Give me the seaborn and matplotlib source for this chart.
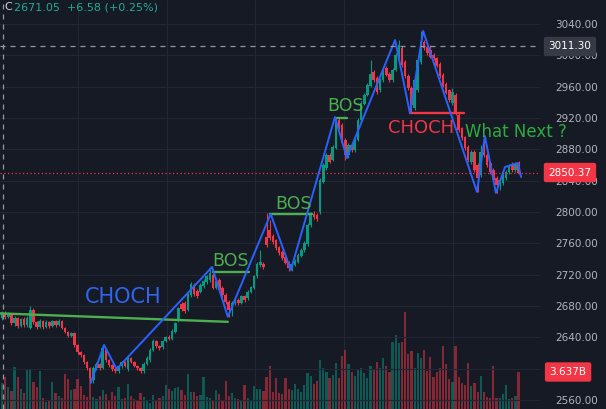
import numpy as np
import pandas as pd
import matplotlib
matplotlib.use("Agg")
import matplotlib.pyplot as plt
import matplotlib.transforms as mtransforms
import seaborn as sns

# candles (one per bar, left to right)
opens = [2664.5, 2671.1, 2666.0, 2669.7, 2658.2, 2664.6, 2654.3, 2663.3, 2655.6, 2652.0,
         2674.8, 2659.4, 2653.1, 2660.7, 2653.1, 2659.4, 2654.3, 2660.7, 2655.6, 2660.7,
         2651.8, 2646.7, 2641.6, 2645.4, 2630.1, 2621.2, 2617.3, 2608.4, 2600.7, 2585.4,
         2600.7, 2605.8, 2600.7, 2623.7, 2610.9, 2604.5, 2599.4, 2596.9, 2603.3, 2608.4,
         2599.4, 2613.5, 2608.4, 2603.3, 2600.7, 2596.9, 2605.8, 2610.9, 2623.7, 2635.2,
         2628.8, 2627.5, 2635.2, 2640.3, 2637.8, 2646.7, 2662.0, 2682.5, 2683.7, 2674.8,
         2693.9, 2706.7, 2699.0, 2697.8, 2705.4, 2710.5, 2713.1, 2719.5, 2702.9, 2713.1,
         2702.9, 2693.9, 2685.0, 2674.8, 2683.7, 2687.6, 2683.7, 2692.6, 2690.1, 2697.8,
         2702.9, 2718.2, 2732.2, 2733.5, 2768.0, 2777.0, 2769.3, 2764.2, 2755.2, 2748.9,
         2742.5, 2736.1, 2727.1, 2732.2, 2736.1, 2743.7, 2751.4, 2759.1, 2783.3, 2797.4,
         2796.1, 2799.9, 2838.2, 2856.1, 2872.8, 2866.4, 2881.7, 2917.4, 2911.0, 2891.9,
         2872.8, 2885.5, 2879.1, 2891.9, 2917.4, 2937.8, 2949.3, 2960.8, 2978.7, 2971.0,
         2955.7, 2968.5, 2983.8, 2976.1, 2968.5, 2981.2, 2997.9, 3009.3, 2991.5, 2973.6,
         2958.3, 2932.7, 2955.7, 2991.5, 3017.0, 3010.6, 3006.8, 3000.4, 2996.6, 2988.9,
         2974.9, 2963.4, 2955.7, 2939.1, 2949.3, 2923.8, 2907.2, 2895.7, 2882.9, 2863.9,
         2876.6, 2860.0, 2847.2, 2876.6, 2872.8, 2862.5, 2853.6, 2843.3, 2835.7, 2837.0,
         2843.3, 2851.0, 2861.2, 2853.6, 2862.5]
closes = [2671.05, 2666.0, 2669.7, 2658.2, 2664.6, 2654.3, 2663.3, 2655.6, 2664.6, 2674.8,
          2659.4, 2653.1, 2660.7, 2653.1, 2659.4, 2654.3, 2660.7, 2655.6, 2660.7, 2651.8,
          2646.7, 2641.6, 2645.4, 2630.1, 2621.2, 2617.3, 2608.4, 2600.7, 2587.9, 2600.7,
          2605.8, 2600.7, 2626.3, 2610.9, 2604.5, 2599.4, 2596.9, 2603.3, 2608.4, 2603.3,
          2613.5, 2608.4, 2603.3, 2600.7, 2596.9, 2605.8, 2613.5, 2623.7, 2635.2, 2628.8,
          2626.3, 2635.2, 2640.3, 2637.8, 2648.0, 2658.2, 2677.3, 2676.1, 2673.5, 2695.2,
          2708.0, 2695.2, 2692.6, 2706.7, 2711.8, 2718.2, 2722.0, 2702.9, 2711.8, 2700.3,
          2693.9, 2685.0, 2674.8, 2683.7, 2687.6, 2683.7, 2692.6, 2687.6, 2697.8, 2704.2,
          2718.2, 2733.5, 2736.1, 2729.7, 2757.8, 2766.7, 2761.6, 2754.0, 2747.6, 2741.2,
          2734.8, 2728.4, 2733.5, 2737.3, 2745.0, 2751.4, 2760.3, 2783.3, 2797.4, 2793.5,
          2791.0, 2840.8, 2860.0, 2872.8, 2863.9, 2882.9, 2914.8, 2908.4, 2888.0, 2872.8,
          2885.5, 2879.1, 2891.9, 2917.4, 2939.1, 2949.3, 2962.1, 2976.1, 2968.5, 2953.2,
          2968.5, 2981.2, 2974.9, 2968.5, 2981.2, 3000.4, 3013.2, 2987.6, 2973.6, 2958.3,
          2936.6, 2968.5, 2994.0, 3017.0, 3009.3, 3003.0, 2997.9, 2996.6, 2986.4, 2973.6,
          2960.8, 2951.9, 2943.0, 2953.2, 2926.3, 2904.6, 2894.4, 2881.7, 2866.4, 2876.6,
          2853.6, 2843.3, 2876.6, 2872.8, 2860.0, 2851.0, 2840.8, 2834.4, 2840.8, 2845.9,
          2851.0, 2858.7, 2853.6, 2861.2, 2850.37]
highs = [2674.0, 2673.5, 2672.0, 2671.0, 2667.0, 2666.0, 2665.0, 2665.5, 2667.0, 2680.0,
         2677.0, 2661.0, 2663.0, 2662.0, 2661.5, 2661.0, 2662.5, 2662.0, 2663.0, 2662.0,
         2653.0, 2648.5, 2647.0, 2647.0, 2632.0, 2623.0, 2619.0, 2610.0, 2602.0, 2603.0,
         2608.0, 2607.0, 2630.1, 2626.0, 2612.5, 2606.0, 2601.5, 2605.0, 2610.0, 2610.0,
         2617.0, 2615.0, 2610.0, 2605.0, 2602.5, 2608.0, 2615.5, 2626.0, 2638.0, 2637.0,
         2630.5, 2637.0, 2642.0, 2642.5, 2650.0, 2660.0, 2679.0, 2685.0, 2686.0, 2697.0,
         2711.0, 2709.0, 2701.0, 2709.0, 2714.0, 2720.0, 2729.7, 2722.5, 2714.0, 2715.5,
         2705.0, 2696.0, 2687.0, 2686.0, 2690.0, 2689.5, 2694.5, 2694.0, 2700.0, 2706.0,
         2720.0, 2736.0, 2751.4, 2736.0, 2798.6, 2789.7, 2772.0, 2766.0, 2757.0, 2751.0,
         2744.5, 2738.0, 2735.5, 2739.5, 2747.0, 2753.5, 2762.5, 2786.0, 2799.5, 2801.2,
         2798.5, 2843.0, 2862.5, 2875.0, 2875.0, 2885.0, 2921.2, 2919.5, 2913.0, 2894.0,
         2887.5, 2887.5, 2894.0, 2919.5, 2941.5, 2951.5, 2964.5, 2994.0, 2981.0, 2973.5,
         2971.0, 2983.5, 2986.0, 2978.5, 2983.5, 3002.5, 3019.6, 3011.5, 2994.0, 2976.0,
         2960.5, 2970.5, 2996.0, 3031.1, 3019.5, 3013.2, 3013.2, 3002.5, 2998.5, 2991.0,
         2977.0, 2965.5, 2957.5, 2958.0, 2951.5, 2926.0, 2909.0, 2897.5, 2885.0, 2878.5,
         2878.5, 2862.0, 2885.5, 2894.4, 2875.0, 2864.5, 2855.5, 2845.5, 2843.0, 2848.0,
         2853.0, 2861.0, 2863.5, 2863.9, 2864.5]
lows = [2662.0, 2663.0, 2664.0, 2656.0, 2655.0, 2652.0, 2652.5, 2653.5, 2653.0, 2651.0,
        2657.0, 2651.0, 2651.5, 2651.0, 2651.5, 2652.0, 2652.5, 2653.0, 2654.0, 2650.0,
        2645.0, 2640.0, 2640.0, 2628.0, 2619.0, 2615.0, 2606.0, 2598.0, 2581.5, 2581.5,
        2598.0, 2598.5, 2599.0, 2609.0, 2602.0, 2597.0, 2594.5, 2595.0, 2601.0, 2601.5,
        2597.5, 2606.5, 2601.5, 2598.5, 2595.0, 2595.0, 2604.0, 2609.0, 2622.0, 2626.5,
        2624.0, 2625.5, 2633.5, 2636.0, 2636.0, 2645.0, 2660.0, 2674.0, 2671.5, 2673.0,
        2692.0, 2693.0, 2690.5, 2696.0, 2703.5, 2708.5, 2711.0, 2701.0, 2701.0, 2698.5,
        2692.0, 2683.0, 2665.8, 2667.1, 2681.5, 2681.5, 2682.0, 2685.5, 2688.0, 2696.0,
        2701.0, 2716.0, 2730.0, 2727.5, 2755.0, 2764.0, 2759.0, 2752.0, 2745.5, 2739.0,
        2733.0, 2724.6, 2724.6, 2730.5, 2734.5, 2742.0, 2749.5, 2757.0, 2781.0, 2791.5,
        2789.0, 2798.0, 2836.5, 2854.0, 2862.0, 2864.5, 2880.0, 2906.5, 2886.0, 2866.4,
        2868.9, 2877.0, 2877.0, 2890.0, 2915.5, 2936.0, 2947.5, 2959.0, 2966.5, 2951.0,
        2953.5, 2966.5, 2973.0, 2966.5, 2966.5, 2979.5, 2996.0, 2985.5, 2971.5, 2956.0,
        2926.3, 2930.0, 2953.5, 2989.5, 3007.0, 3001.0, 2996.0, 2994.5, 2984.5, 2971.5,
        2959.0, 2950.0, 2941.0, 2937.0, 2924.0, 2902.5, 2892.5, 2879.5, 2864.0, 2861.5,
        2851.5, 2825.5, 2845.0, 2870.5, 2858.0, 2849.0, 2838.5, 2824.2, 2828.0, 2835.0,
        2841.0, 2849.0, 2851.5, 2851.5, 2848.0]
# volume in billions
volumes = [2.6, 3.1, 2.2, 1.8, 4.1, 3.1, 2.0, 1.6, 3.8, 3.9,
           2.7, 2.2, 3.7, 1.1, 0.7, 0.8, 2.7, 1.6, 1.3, 1.1,
           3.4, 2.9, 1.9, 2.0, 2.9, 2.3, 1.4, 1.2, 3.1, 1.2,
           1.0, 1.3, 1.9, 1.5, 0.8, 1.7, 1.3, 2.2, 1.0, 1.1,
           2.5, 1.3, 1.0, 0.9, 1.6, 1.2, 0.8, 0.6, 1.4, 0.8,
           1.1, 1.3, 2.4, 2.0, 1.8, 2.1, 2.2, 1.9, 1.4, 3.4,
           1.7, 1.7, 1.3, 1.4, 3.1, 1.2, 1.1, 0.9, 1.9, 1.5,
           0.9, 2.8, 1.3, 1.6, 1.1, 1.0, 0.9, 2.4, 1.1, 0.8,
           2.3, 2.0, 2.0, 1.8, 3.1, 4.2, 1.7, 3.0, 1.6, 1.5,
           3.0, 2.0, 1.9, 2.5, 2.0, 1.7, 2.4, 3.5, 3.2, 2.5,
           2.8, 4.8, 4.0, 3.6, 3.0, 3.3, 4.5, 3.0, 5.2, 5.8,
           4.4, 3.6, 3.2, 3.8, 4.0, 3.5, 3.0, 4.2, 3.8, 4.6,
           4.0, 5.0, 4.2, 3.6, 6.6, 7.3, 6.5, 6.6, 9.5, 5.4,
           5.7, 4.0, 5.5, 5.0, 5.8, 3.7, 5.1, 3.1, 3.6, 4.0,
           6.2, 4.4, 2.9, 2.7, 6.2, 3.1, 2.6, 2.4, 4.5, 2.3,
           2.6, 1.7, 3.2, 1.7, 1.2, 1.1, 4.2, 1.1, 1.1, 1.5,
           2.4, 1.0, 1.1, 1.3, 3.637]

# swing zigzag (bar index, price)
zig_idx = [28.2, 32.4, 36.4, 66.7, 71.7, 85.3, 91.7, 105.7, 109.5, 124.8,
           129.5, 133.7, 150.8, 153.3, 156.8, 159.7, 163.8, 164.8]
zig_price = [2581.9, 2630.1, 2599.4, 2729.7, 2666.2, 2797.4, 2725.9, 2921.2, 2868.9, 3019.6,
             2926.3, 3031.1, 2825.5, 2896.9, 2824.2, 2857.4, 2862.5, 2844.6]

# structure levels
choch_line_idx = [-0.6, 71.7]
choch_line_price = [2670.5, 2659.7]
bos_start = [67.0, 85.1, 106.3]
bos_end = [78.4, 98.4, 109.5]
bos_price = [2723.3, 2797.4, 2920.0]
red_choch_idx = [129.5, 146.7]
red_choch_price = 2926.3

last_price = 2850.37
cross_price = 3011.30
price_ticks = list(range(2560, 3041, 40))

BG = "#161a25"
GRID = "#232733"
UP = "#089981"
DOWN = "#f23645"
BLUE = "#2962ff"
GREEN = "#4caf50"
TXT = "#b2b5be"

sns.set_theme(style="dark", rc={"axes.facecolor": BG, "figure.facecolor": BG})
plt.rcParams["font.family"] = ["DejaVu Sans"]

df = pd.DataFrame({"open": opens, "high": highs, "low": lows, "close": closes, "vol": volumes})
df["i"] = np.arange(len(df))
df["up"] = df["close"] >= df["open"]
colors = np.where(df["up"], UP, DOWN)

fig = plt.figure(figsize=(6.06, 4.09), dpi=100)
rect = [0, 0, 540 / 606, 1]
ax_vol = fig.add_axes(rect)
ax = fig.add_axes(rect, sharex=ax_vol)
ax.patch.set_alpha(0)

ax.set_xlim(-0.63, 170.8)
ax.set_ylim(2548.4, 3070.65)

# volume
ax_vol.bar(df["i"], df["vol"], width=0.7, color=colors, alpha=0.5, linewidth=0)
ax_vol.set_ylim(0, 40.2)
ax_vol.set_facecolor(BG)
for s in ax_vol.spines.values():
    s.set_visible(False)
ax_vol.set_xticks([])
ax_vol.set_yticks([])
for gx in [24.1, 52.4, 80.3, 108.6, 143.2]:
    ax_vol.axvline(gx, color=GRID, lw=0.8, zorder=0)

# price axis and grid (2600 label sits under the volume box)
ax.set_yticks(price_ticks)
ax.set_yticklabels(["" if v == 2600 else f"{v:.2f}" for v in price_ticks])
ax.yaxis.tick_right()
ax.tick_params(axis="y", length=0, pad=11, labelsize=7.5, labelcolor=TXT)
ax.set_xticks([])
ax.yaxis.grid(True, color=GRID, lw=0.8)
ax.set_axisbelow(True)
for s in ax.spines.values():
    s.set_visible(False)

# candles
body_lo = np.minimum(df["open"], df["close"])
body_h = np.maximum(np.abs(df["close"] - df["open"]), 0.9)
ax.vlines(df["i"], df["low"], df["high"], colors=colors, lw=0.8, zorder=3)
ax.bar(df["i"], body_h, bottom=body_lo, width=0.82, color=colors, linewidth=0, zorder=4)

# structure
ax.plot(choch_line_idx, choch_line_price, color=GREEN, lw=1.7, zorder=5)
for a, b, p in zip(bos_start, bos_end, bos_price):
    ax.plot([a, b], [p, p], color=GREEN, lw=1.7, zorder=5)
ax.plot(red_choch_idx, [red_choch_price] * 2, color=DOWN, lw=1.7, zorder=5)
sns.lineplot(x=zig_idx, y=zig_price, sort=False, estimator=None, color=BLUE, lw=1.4, ax=ax, zorder=6)

ax.text(38.4, 2692.0, "CHOCH", color="#2f66f0", fontsize=15, ha="center", va="center", zorder=7)
ax.text(72.4, 2737.3, "BOS", color=GREEN, fontsize=12.5, ha="center", va="center", zorder=7)
ax.text(92.5, 2810.0, "BOS", color=GREEN, fontsize=12.5, ha="center", va="center", zorder=7)
ax.text(109.0, 2934.7, "BOS", color=GREEN, fontsize=12.5, ha="center", va="center", zorder=7)
ax.text(133.2, 2907.8, "CHOCH", color=DOWN, fontsize=13, ha="center", va="center", zorder=7)
ax.text(163.2, 2902.0, "What Next ?", color="#2eaa3f", fontsize=12, ha="center", va="center",
        zorder=7, clip_on=False)

# crosshair and last price
dash = (0, (4, 4))
ax.axvline(0.3, color="#9598a1", lw=0.9, ls=dash, zorder=8)
ax.axhline(cross_price, color="#9598a1", lw=0.9, ls=dash, zorder=8)
ax.axhline(last_price, color=DOWN, lw=0.9, ls=(0, (1, 2)), zorder=8)

tr = mtransforms.blended_transform_factory(ax.transAxes, ax.transData)
tr_v = mtransforms.blended_transform_factory(ax.transAxes, ax_vol.transData)
box = "round,pad=0.45,rounding_size=0.2"
ax.text(1.0555, cross_price, f"{cross_price:.2f}", transform=tr, fontsize=7.5, color="white",
        ha="center", va="center", clip_on=False, zorder=10,
        bbox=dict(boxstyle=box, fc="#363a45", ec="none"))
ax.text(1.0555, last_price, f"{last_price:.2f}", transform=tr, fontsize=7.5, color="white",
        ha="center", va="center", clip_on=False, zorder=10,
        bbox=dict(boxstyle=box, fc=DOWN, ec="none"))
ax.text(1.052, volumes[-1], f"{volumes[-1]:.3f}B", transform=tr_v, fontsize=7.5, color="white",
        ha="center", va="center", clip_on=False, zorder=10,
        bbox=dict(boxstyle=box, fc=DOWN, ec="none"))

# legend line top-left
fig.text(4 / 606, 1 - 7 / 409, "C", color="#d1d4dc", fontsize=8, va="center")
fig.text(14 / 606, 1 - 7 / 409, f"{closes[0]:.2f}  +6.58 (+0.25%)", color="#22ab94",
         fontsize=8, va="center")

fig.savefig("out.png", dpi=100, facecolor=BG)
